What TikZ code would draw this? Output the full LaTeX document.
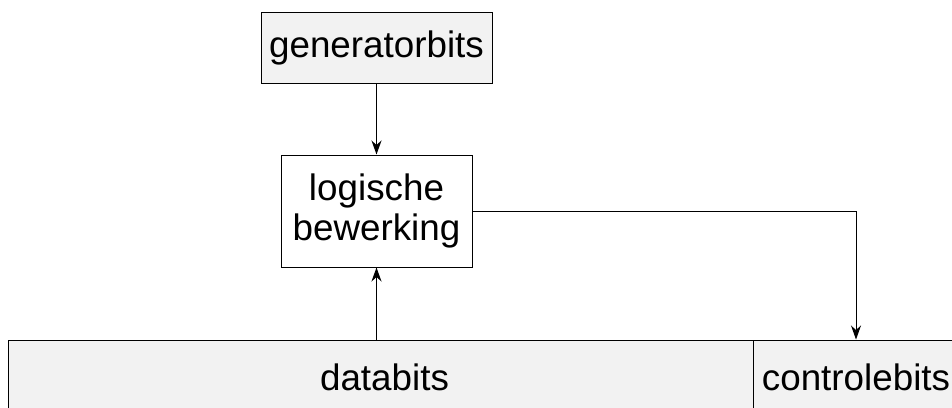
\documentclass[tikz,border=0pt]{standalone}
\usepackage{fontspec}
\setmainfont{Liberation Sans}
\usetikzlibrary{arrows.meta}
\definecolor{boxfill}{HTML}{F2F2F2}
\tikzset{
  box/.style={draw=black, line width=1pt, inner sep=0pt, align=center,
    font=\fontsize{36.8}{40}\selectfont},
  graybox/.style={box, fill=boxfill},
  conn/.style={draw=black, line width=1pt, -{Stealth[length=14pt,width=10pt,inset=4.5pt]}}
}
\begin{document}
\begin{tikzpicture}[x=1pt,y=-1pt]
\useasboundingbox (0,0) rectangle (952,407);
\clip (0,0) rectangle (952,407);
\node[graybox, minimum width=231pt, minimum height=71pt] (gen) at (376.5,47.5) {generatorbits};
\node[box, minimum width=191pt, minimum height=112pt] (logic) at (376.5,211) {logische\\bewerking};
\node[graybox, minimum width=745pt, minimum height=74pt] (data) at (380.5,377) {\hspace*{8pt}databits};
\node[graybox, minimum width=206pt, minimum height=74pt] (ctrl) at (856,377) {controlebits};
\draw[conn] (gen.south) -- (logic.north);
\draw[conn] (logic.south |- data.north) -- (logic.south);
\draw[conn] (logic.east) -| (ctrl.north);
\end{tikzpicture}
\end{document}
